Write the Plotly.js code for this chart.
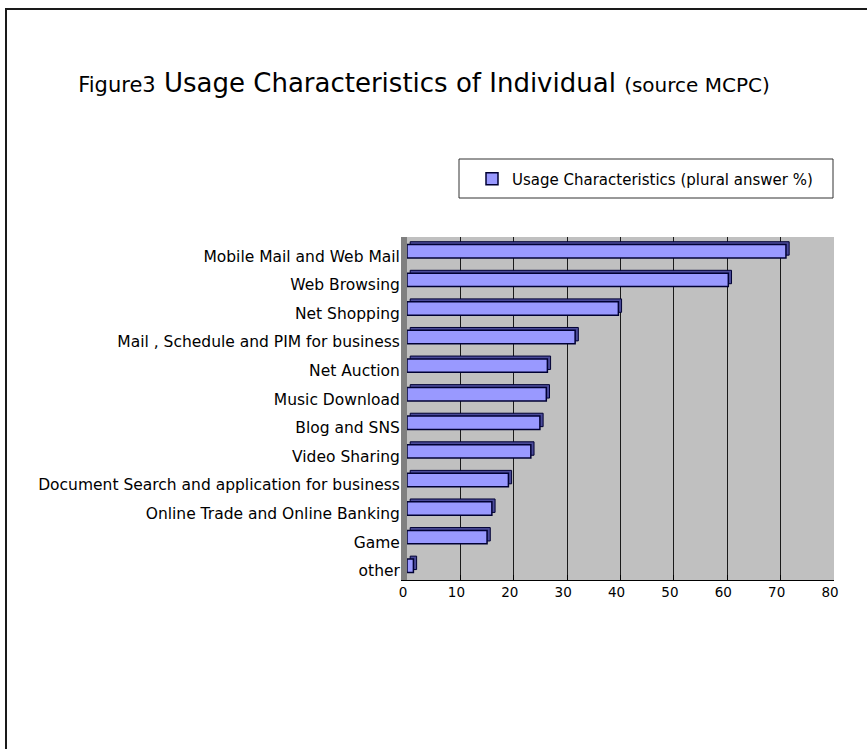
<!DOCTYPE html>
<html>
<head>
<meta charset="utf-8">
<script src="https://cdn.plot.ly/plotly-3.0.1.min.js"></script>
<style>
  html, body { margin: 0; padding: 0; background: #ffffff; }
  #frame { position: absolute; left: 5px; top: 8px; width: 870px; height: 760px;
           border-top: 2px solid #1a1a1a; border-left: 2px solid #1a1a1a; }
  #chart { position: absolute; left: 0; top: 0; width: 867px; height: 749px; }
</style>
</head>
<body>
<div id="frame"></div>
<div id="chart"></div>
<script>
const categories = [
  "Mobile Mail and Web Mail",
  "Web Browsing",
  "Net Shopping",
  "Mail , Schedule and PIM for business",
  "Net Auction",
  "Music Download",
  "Blog and SNS",
  "Video Sharing",
  "Document Search and application for business",
  "Online Trade and Online Banking",
  "Game",
  "other"
];
const usageValues = [71.0, 60.2, 39.6, 31.5, 26.3, 26.1, 24.9, 23.2, 19.0, 15.9, 15.0, 1.2];
const seriesName = "Usage Characteristics (plural answer %)";
const xTicks = [0, 10, 20, 30, 40, 50, 60, 70, 80];

const FONT = "'DejaVu Sans', 'Noto Sans', sans-serif";

// pixel geometry of the plot area
const L = 407, R = 834, T = 237, B = 580, W = 867, H = 749;
const px = v => (v - L) / (R - L);
const py = v => (B - v) / (B - T);

// depth face (drawn first, slightly up and to the right) to mimic the 3-D bars
const depthTrace = {
  type: "bar",
  orientation: "h",
  y: categories,
  x: usageValues,
  base: 0.6,
  width: 0.47,
  offset: -0.335,
  marker: { color: "#4b4b9a", line: { color: "#000033", width: 1 } },
  showlegend: false,
  hoverinfo: "skip"
};

const trace = {
  type: "bar",
  orientation: "h",
  y: categories,
  x: usageValues,
  name: seriesName,
  width: 0.47,
  offset: -0.235,
  marker: { color: "#9999ff", line: { color: "#000033", width: 1.5 } },
  hoverinfo: "x+y"
};

const layout = {
  width: W,
  height: H,
  paper_bgcolor: "rgba(0,0,0,0)",
  plot_bgcolor: "#c0c0c0",
  font: { family: FONT, color: "#000000", size: 15 },
  margin: { l: L, r: W - R, t: T, b: H - B, pad: 0 },
  showlegend: true,
  barmode: "overlay",
  title: {
    text: '<span style="font-size:21px">Figure3</span> Usage Characteristics of Individual <span style="font-size:20px">(source MCPC)</span>',
    font: { family: FONT, size: 26, color: "#000000" },
    x: 424 / W, xref: "container", xanchor: "center",
    y: 1 - 83 / H, yref: "container", yanchor: "middle"
  },
  legend: {
    orientation: "h",
    x: px(472), xanchor: "left",
    y: py(179), yanchor: "middle",
    borderwidth: 0,
    bgcolor: "rgba(0,0,0,0)",
    font: { family: FONT, size: 15, color: "#000000" },
    itemclick: false
  },
  shapes: [
    { type: "rect", xref: "paper", yref: "paper",
      x0: px(459), x1: px(833), y0: py(198), y1: py(159),
      line: { color: "#333333", width: 1 }, fillcolor: "#ffffff", layer: "below" }
  ],
  xaxis: {
    range: [0, 80],
    tickvals: xTicks,
    ticktext: xTicks.map(String),
    showgrid: true,
    gridcolor: "#1a1a1a",
    gridwidth: 1,
    zeroline: false,
    showline: true,
    linecolor: "#000000",
    linewidth: 1,
    ticks: "inside",
    ticklen: 5,
    tickcolor: "#000000",
    ticklabelshift: -4,
    ticklabelstandoff: 0,
    tickfont: { family: FONT, size: 13.5, color: "#000000" },
    fixedrange: true
  },
  yaxis: {
    type: "category",
    categoryorder: "array",
    categoryarray: categories,
    autorange: "reversed",
    showgrid: false,
    zeroline: false,
    showline: true,
    linecolor: "#808080",
    linewidth: 6,
    layer: "below traces",
    ticks: "",
    ticklabelstandoff: -2,
    ticklabelshift: -5,
    tickfont: { family: FONT, size: 15.5, color: "#000000" },
    fixedrange: true
  }
};

Plotly.newPlot("chart", [depthTrace, trace], layout, { displayModeBar: false, staticPlot: true });
</script>
</body>
</html>
